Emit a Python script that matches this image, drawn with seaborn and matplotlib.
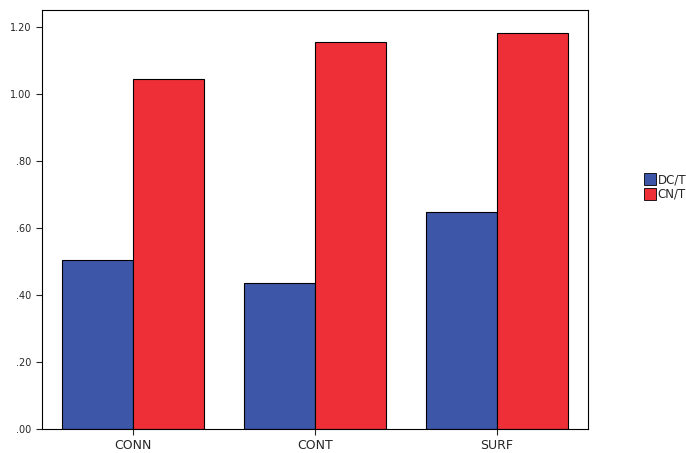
import matplotlib
matplotlib.use("Agg")
import matplotlib.pyplot as plt
import seaborn as sns
import pandas as pd
from matplotlib.patches import Patch

categories = ["CONN", "CONT", "SURF"]
series = ["DC/T", "CN/T"]
dc_values = [0.504, 0.436, 0.648]
cn_values = [1.045, 1.155, 1.182]
colors = ["#3d56a8", "#ef2f37"]

df = pd.DataFrame({
    "cat": categories * 2,
    "series": [series[0]] * 3 + [series[1]] * 3,
    "value": dc_values + cn_values,
})

sns.set_style("white")
fig = plt.figure(figsize=(6.86, 4.53), dpi=100)
ax = fig.add_axes([42 / 686, 1 - 429 / 453, 546 / 686, 419 / 453])
sns.barplot(data=df, x="cat", y="value", hue="series", palette=colors,
            edgecolor="black", linewidth=0.8, width=0.78, saturation=1,
            errorbar=None, ax=ax, legend=False)
ax.set_ylim(0, 1.25)
ax.set_yticks([0, 0.2, 0.4, 0.6, 0.8, 1.0, 1.2])
ax.set_yticklabels([".00", ".20", ".40", ".60", ".80", "1.00", "1.20"], fontsize=7)
ax.tick_params(axis="x", labelsize=9, length=4, bottom=True)
ax.tick_params(axis="y", length=4, left=True)
ax.set_xlabel("")
ax.set_ylabel("")
for s in ax.spines.values():
    s.set_color("black")
    s.set_linewidth(0.8)

handles = [Patch(facecolor=c, edgecolor="black", linewidth=0.6) for c in colors]
fig.legend(handles, series, loc="center left", bbox_to_anchor=(638 / 686, 1 - 187 / 453),
           frameon=False, fontsize=8.5, handlelength=1.0, handleheight=1.1,
           handletextpad=0.15, labelspacing=0.15, borderpad=0)

fig.savefig("out.png", dpi=100)
